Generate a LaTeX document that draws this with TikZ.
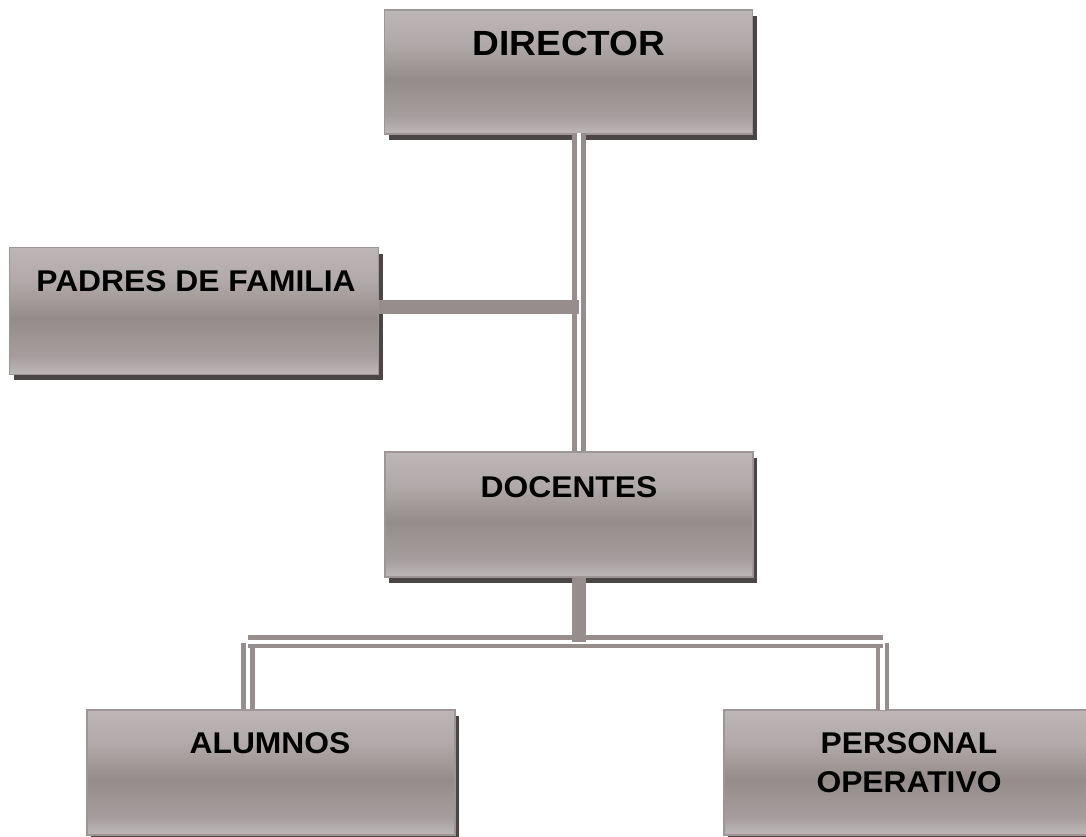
\documentclass[tikz,border=0pt]{standalone}
\usepackage{fontspec}
\setmainfont{Liberation Sans}[FakeStretch=1.06]
\usetikzlibrary{shadows}
\definecolor{boxtop}{HTML}{BDB6B6}
\definecolor{boxup}{HTML}{B2AAAA}
\definecolor{boxdark}{HTML}{958B8B}
\definecolor{boxlow}{HTML}{A69E9E}
\definecolor{boxbot}{HTML}{BEB8B8}
\definecolor{boxedge}{HTML}{9E9696}
\definecolor{shadowc}{HTML}{4C4546}
\definecolor{linec}{HTML}{978D8D}
\pgfdeclareverticalshading{boxshade}{100bp}{color(0bp)=(boxbot); color(25bp)=(boxbot); color(32bp)=(boxlow); color(47bp)=(boxdark); color(62bp)=(boxup); color(75bp)=(boxtop); color(100bp)=(boxtop)}
\tikzset{
  orgbox/.style={rectangle, shading=boxshade, draw=boxedge, line width=1.2pt, inner sep=0pt,
    minimum width=368pt, minimum height=125pt,
    drop shadow={shadow xshift=4pt, shadow yshift=-6pt, fill=shadowc, opacity=1}},
  lbl/.style={font=\fontsize{30}{39}\selectfont\bfseries, anchor=base, inner sep=0pt, align=center},
  biglbl/.style={font=\fontsize{35}{40}\selectfont\bfseries, anchor=base, inner sep=0pt},
  dbl/.style={draw=linec, line width=4.5pt, double=white, double distance=4.3pt},
  heavy/.style={draw=linec, line width=13.5pt},
}
\begin{document}
\begin{tikzpicture}[x=1pt, y=-1pt]
\useasboundingbox (0,0) rectangle (1086,836);
% boxes
\node[orgbox, minimum height=124pt] (dir) at (568.5,72) {};
\node[orgbox, minimum width=369pt, minimum height=126.5pt] (pad) at (194,311) {};
\node[orgbox] (doc) at (569,514.5) {};
\node[orgbox] (alu) at (271,772.5) {};
\node[orgbox] (per) at (908,772.5) {};
% labels
\node[biglbl] (tdir) at (569,55) {DIRECTOR};
\node[lbl] (tpad) at (196,291) {PADRES DE FAMILIA};
\node[lbl] (tdoc) at (569,497) {DOCENTES};
\node[lbl] (talu) at (270,753) {ALUMNOS};
\node[lbl] (tper) at (909,792) {PERSONAL\\OPERATIVO};
% junction coordinates
\coordinate (jdirtop) at (579,133);
\coordinate (jpad) at (579,307);
\coordinate (jdown) at (579,642);
\coordinate (hl) at (248,641.75);
\coordinate (hr) at (883,641.75);
% connectors
\draw[dbl] (jdirtop) -- (jdirtop |- doc.north);
\draw[heavy] (pad.east |- jpad) -- (jpad);
\draw[dbl] (248,643) -- (hl |- alu.north);
\draw[dbl] (882.5,643) -- (882.5 ,710);
\draw[dbl] (hl) -- (hr);
\draw[heavy] (jdown |- doc.south) -- (jdown);
\end{tikzpicture}
\end{document}
